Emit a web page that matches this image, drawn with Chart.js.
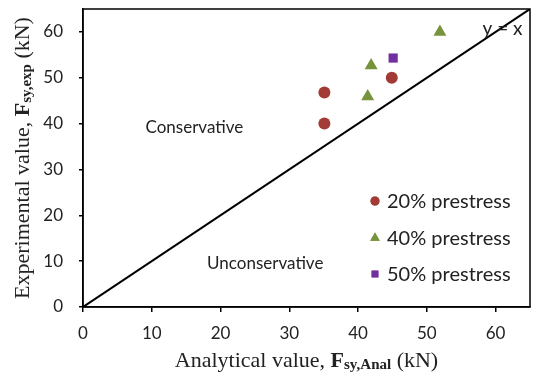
<!DOCTYPE html>
<html lang="en">
<head>
    <meta charset="UTF-8">
    <title>Experimental vs analytical Fsy</title>
    <script src="https://cdn.jsdelivr.net/npm/chart.js"></script>
    <style>
        body {
            margin: 0;
            padding: 0;
            background-color: #fff;
        }
        #wrap {
            width: 542px;
            height: 378px;
        }
    </style>
</head>
<body>
    <div id="wrap"><canvas id="myChart" width="542" height="378"></canvas></div>

    <script>
        // data (kN)
        const seriesLabels = ['20% prestress', '40% prestress', '50% prestress'];
        const seriesColors = ['#A23B36', '#77933C', '#7030A0'];
        const seriesStyles = ['circle', 'triangle', 'rect'];

        const analytical20 = [35.1, 35.1, 44.9];
        const experimental20 = [46.8, 40.0, 50.0];
        const analytical40 = [41.4, 41.9, 51.9];
        const experimental40 = [45.9, 52.7, 60.0];
        const analytical50 = [45.1];
        const experimental50 = [54.3];

        const lineX = [0, 65];   // y = x reference line
        const axisMin = 0;
        const axisMax = 65;
        const tickStep = 10;

        const labelFont = 'Lato, "Open Sans", sans-serif';
        const serifFont = '"Liberation Serif", "DejaVu Serif", serif';

        function toPoints(xs, ys) {
            return xs.map((x, i) => ({ x: x, y: ys[i] }));
        }

        const pointSets = [
            toPoints(analytical20, experimental20),
            toPoints(analytical40, experimental40),
            toPoints(analytical50, experimental50)
        ];
        const markerRadius = [6, 7.5, 6.5];

        const datasets = pointSets.map((pts, i) => ({
            type: 'scatter',
            label: seriesLabels[i],
            data: pts,
            pointStyle: seriesStyles[i],
            pointRadius: markerRadius[i],
            pointHoverRadius: markerRadius[i],
            backgroundColor: seriesColors[i],
            borderColor: seriesColors[i],
            borderWidth: 0
        }));

        datasets.push({
            type: 'line',
            label: 'y = x',
            data: toPoints(lineX, lineX),
            borderColor: '#000',
            borderWidth: 2,
            pointRadius: 0,
            fill: false
        });

        // text drawn on top of the plot: box, notes, legend, axis titles
        const extras = {
            id: 'extras',
            afterDraw(chart) {
                const ctx = chart.ctx;
                const a = chart.chartArea;
                const xs = chart.scales.x;
                const ys = chart.scales.y;
                ctx.save();

                // frame
                ctx.strokeStyle = '#000';
                ctx.lineWidth = 1.5;
                ctx.strokeRect(a.left, a.top, a.right - a.left, a.bottom - a.top);

                // notes
                ctx.fillStyle = '#222';
                ctx.font = '17px ' + labelFont;
                ctx.textAlign = 'center';
                ctx.textBaseline = 'middle';
                ctx.fillText('Conservative', xs.getPixelForValue(16.2), ys.getPixelForValue(39.2));
                ctx.fillText('Unconservative', xs.getPixelForValue(26.5), ys.getPixelForValue(9.5));
                ctx.font = '19px ' + labelFont;
                ctx.fillText('y = x', xs.getPixelForValue(61), ys.getPixelForValue(60.6));

                // legend
                const rows = [201, 238, 274];
                const legendR = [4.5, 5.5, 4.8];
                ctx.font = '20px ' + labelFont;
                ctx.textAlign = 'left';
                rows.forEach((y, i) => {
                    ctx.fillStyle = seriesColors[i];
                    Chart.helpers.drawPoint(ctx, {
                        pointStyle: seriesStyles[i],
                        radius: legendR[i],
                        rotation: 0,
                        borderWidth: 0
                    }, 375, y);
                    ctx.fill();
                    ctx.fillStyle = '#222';
                    ctx.fillText(seriesLabels[i], 387, y + 1);
                });

                // axis titles with bold F and subscript
                function mixedTitle(parts) {
                    let w = 0;
                    parts.forEach(p => { ctx.font = p.font; w += ctx.measureText(p.text).width; });
                    return w;
                }
                function drawParts(parts, startX, baseY) {
                    let x = startX;
                    parts.forEach(p => {
                        ctx.font = p.font;
                        ctx.fillText(p.text, x, baseY + (p.dy || 0));
                        x += ctx.measureText(p.text).width;
                    });
                }
                const big = '22px ' + serifFont;
                const bigB = 'bold 22px ' + serifFont;
                const sub = 'bold 15px ' + serifFont;

                ctx.fillStyle = '#222';
                ctx.textAlign = 'left';
                ctx.textBaseline = 'alphabetic';

                const xParts = [
                    { text: 'Analytical value, ', font: big },
                    { text: 'F', font: bigB },
                    { text: 'sy,Anal', font: sub, dy: 2 },
                    { text: ' (kN)', font: big }
                ];
                const xw = mixedTitle(xParts);
                drawParts(xParts, (a.left + a.right) / 2 - xw / 2, 367);

                const yParts = [
                    { text: 'Experimental value, ', font: big },
                    { text: 'F', font: bigB },
                    { text: 'sy,exp', font: sub, dy: 2 },
                    { text: ' (kN)', font: big }
                ];
                const yw = mixedTitle(yParts);
                ctx.translate(29, (a.top + a.bottom) / 2);
                ctx.rotate(-Math.PI / 2);
                drawParts(yParts, -yw / 2, 0);

                ctx.restore();
            }
        };

        function tensOnly(scale) {
            scale.ticks = scale.ticks.filter(t => t.value % tickStep === 0);
        }

        const ctx = document.getElementById('myChart').getContext('2d');
        new Chart(ctx, {
            type: 'scatter',
            data: { datasets: datasets },
            options: {
                responsive: false,
                animation: false,
                layout: { padding: { left: 0, right: 12, top: 9, bottom: 0 } },
                plugins: {
                    legend: { display: false },
                    tooltip: { enabled: false }
                },
                scales: {
                    x: {
                        type: 'linear',
                        min: axisMin,
                        max: axisMax,
                        afterBuildTicks: tensOnly,
                        afterFit(scale) {
                            scale.height = 71;
                            scale.paddingLeft = 0;
                            scale.paddingRight = 0;
                        },
                        grid: {
                            drawOnChartArea: false,
                            drawTicks: true,
                            tickLength: 5,
                            color: '#000',
                            lineWidth: 1.5
                        },
                        border: { display: true, color: '#000', width: 1.5 },
                        ticks: {
                            stepSize: tickStep,
                            maxRotation: 0,
                            padding: 11,
                            color: '#222',
                            font: { family: labelFont, size: 17 }
                        }
                    },
                    y: {
                        type: 'linear',
                        min: axisMin,
                        max: axisMax,
                        afterBuildTicks: tensOnly,
                        afterFit(scale) {
                            scale.width = 83;
                            scale.paddingTop = 0;
                            scale.paddingBottom = 0;
                        },
                        grid: {
                            drawOnChartArea: false,
                            drawTicks: true,
                            tickLength: 4,
                            color: '#000',
                            lineWidth: 1.5
                        },
                        border: { display: true, color: '#000', width: 1.5 },
                        ticks: {
                            stepSize: tickStep,
                            padding: 16,
                            color: '#222',
                            font: { family: labelFont, size: 17 }
                        }
                    }
                }
            },
            plugins: [extras]
        });
    </script>
</body>
</html>
